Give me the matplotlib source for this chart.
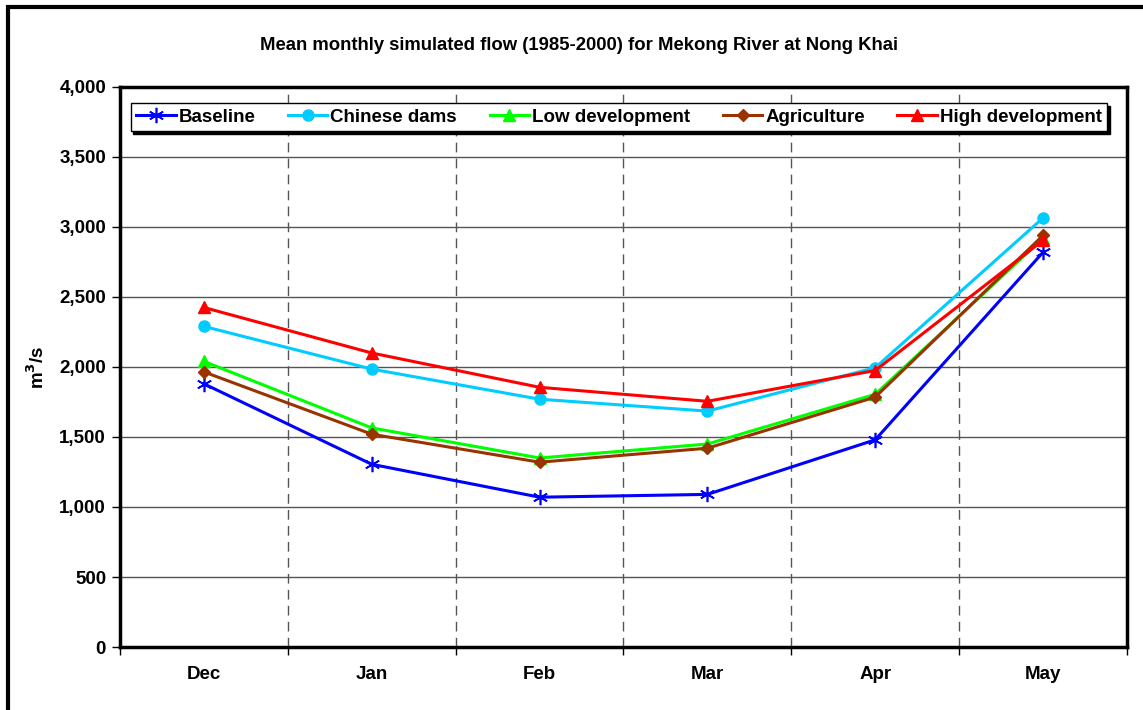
import matplotlib as mpl
mpl.use('Agg')
from matplotlib import pyplot as plt
from matplotlib.patches import Rectangle
from matplotlib.ticker import FuncFormatter

months = ['Dec', 'Jan', 'Feb', 'Mar', 'Apr', 'May']
baseline = [1880, 1305, 1070, 1090, 1480, 2820]
chinese_dams = [2290, 1985, 1770, 1685, 1995, 3065]
low_development = [2040, 1565, 1350, 1450, 1805, 2920]
agriculture = [1965, 1520, 1320, 1420, 1785, 2940]
high_development = [2425, 2100, 1855, 1755, 1975, 2905]

plt.rcParams['font.family'] = ['Liberation Sans', 'DejaVu Sans']
plt.rcParams['font.weight'] = 'bold'

fig = plt.figure(figsize=(11.43, 7.10), dpi=100)
ax = fig.add_axes([120 / 1143, 1 - 647 / 710, 1007 / 1143, 560 / 710])

# outer chart border
fig.patches.append(Rectangle((8 / 1143, -0.05), 1.2, 1 - 7 / 710 + 0.05,
                             transform=fig.transFigure, fill=False,
                             edgecolor='black', linewidth=3, clip_on=False))

x = range(len(months))
series = [
    ('Baseline', baseline, 'blue', dict(marker=(6, 2, 0), markersize=11, markeredgewidth=1.2)),
    ('Chinese dams', chinese_dams, '#00ccff', dict(marker='o', markersize=8)),
    ('Low development', low_development, '#00ff00', dict(marker='^', markersize=8)),
    ('Agriculture', agriculture, '#993300', dict(marker='D', markersize=6)),
    ('High development', high_development, 'red', dict(marker='^', markersize=8)),
]
for name, vals, col, mk in series:
    ax.plot(x, vals, color=col, linewidth=2.2, label=name, markerfacecolor=col,
            markeredgecolor=col, zorder=3, **mk)

ax.set_xlim(-0.5, 5.5)
ax.set_ylim(0, 4000)
ax.set_yticks(range(0, 4001, 500))
ax.yaxis.set_major_formatter(FuncFormatter(lambda v, p: f'{int(v):,}'))
ax.set_xticks(list(x))
ax.set_xticklabels(months)
ax.set_xticks([i - 0.5 for i in range(7)], minor=True)
ax.tick_params(axis='x', which='major', length=0, pad=14, labelsize=13.5)
ax.tick_params(axis='x', which='minor', length=6, width=1, direction='out')
ax.tick_params(axis='y', length=6, width=1, direction='out', labelsize=13.5, pad=4)

ax.grid(axis='y', color='#555555', linewidth=1)
ax.grid(axis='x', which='minor', color='#555555', linestyle=(0, (7, 4.5)), linewidth=1)
ax.set_axisbelow(True)
for s in ax.spines.values():
    s.set_linewidth(2.5)

ax.set_ylabel('m$^\\mathbf{3}$/s', fontsize=13.5, fontweight='bold', labelpad=8)
fig.text(0.5 * (258 + 900) / 1143, 1 - 45 / 710,
         'Mean monthly simulated flow (1985-2000) for Mekong River at Nong Khai',
         ha='center', va='center', fontsize=13.3, fontweight='bold')

leg = ax.legend(loc='upper center', bbox_to_anchor=(0.4955, 0.9714), ncol=5,
                frameon=True, fancybox=False, shadow={'color': 'black', 'alpha': 1},
                edgecolor='black', fontsize=13.5, handlelength=2.1, handletextpad=0.15,
                columnspacing=1.75, borderpad=0.3, borderaxespad=0)
leg.get_frame().set_linewidth(1)

fig.savefig('out.png', dpi=100)
